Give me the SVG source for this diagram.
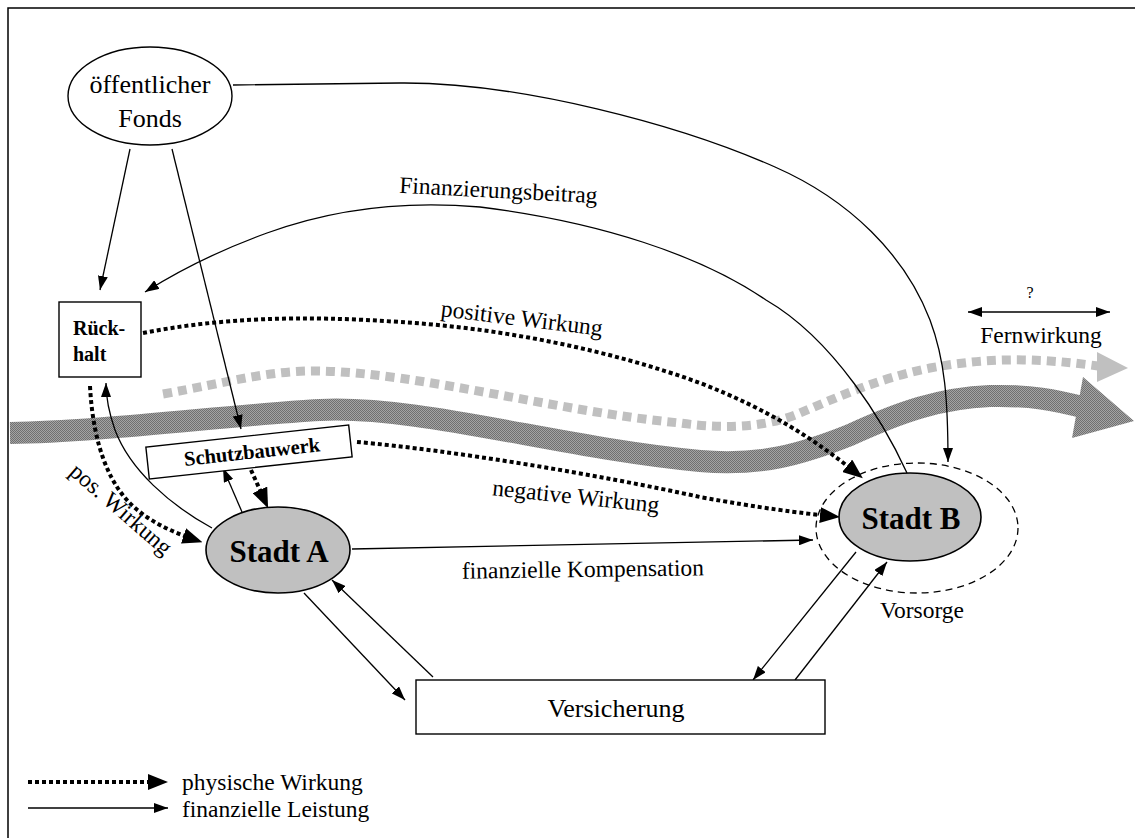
<svg xmlns="http://www.w3.org/2000/svg" width="1135" height="838" viewBox="0 0 1135 838">
  <style>
    text { font-family: "Liberation Serif", "Times New Roman", serif; fill: #000; }
    .node { font-size: 26px; }
    .lbl { font-size: 23.5px; }
    .bold { font-weight: bold; }
    .fin { fill: none; stroke: #000; stroke-width: 1.3; }
    .phys { fill: none; stroke: #000; stroke-width: 4; stroke-dasharray: 4 3; }
    .box { fill: #fff; stroke: #000; stroke-width: 1.4; }
    .city { fill: #c0c0c0; stroke: #000; stroke-width: 1.6; }
  </style>
  <defs>
    <!-- fine grey stipple used for the river band -->
    <pattern id="hatch" width="2" height="2" patternUnits="userSpaceOnUse">
      <rect width="2" height="2" fill="#a4a4a4"/>
      <rect width="1" height="1" fill="#707070"/>
      <rect x="1" y="1" width="1" height="1" fill="#707070"/>
    </pattern>
    <marker id="arr" viewBox="0 0 14 10" refX="14" refY="5" markerWidth="14" markerHeight="10" markerUnits="userSpaceOnUse" orient="auto-start-reverse">
      <path d="M0,0 L14,5 L0,10 z" fill="#000"/>
    </marker>
    <marker id="dotArr" viewBox="0 0 20 16" refX="10" refY="8" markerWidth="20" markerHeight="16" markerUnits="userSpaceOnUse" orient="auto">
      <path d="M0,0 L20,8 L0,16 z" fill="#000"/>
    </marker>
  </defs>

  <!-- frame -->
  <path d="M8,838 L8,8 L1135,8" fill="none" stroke="#000" stroke-width="1.5"/>

  <!-- river and flood wave -->
  <g id="river">
    <path d="M163,394 C230,382 270,370 320,371 C420,373 560,412 680,423 C730,430 770,426 800,413 C840,396 880,378 930,368 C990,357 1040,358 1098,366" fill="none" stroke="#c0c0c0" stroke-width="9" stroke-dasharray="9 6"/>
    <polygon points="1097,352 1128,368 1097,382" fill="#c0c0c0"/>
    <path d="M10,433 C100,432 230,415 320,410 C420,405 560,448 700,461 C760,466 800,455 850,435 C900,412 940,398 990,396 C1030,395 1055,400 1086,408" fill="none" stroke="url(#hatch)" stroke-width="22"/>
    <polygon points="1083,377 1134,421 1072,438" fill="url(#hatch)"/>
  </g>

  <!-- connectors -->
  <g id="connectors">
    <!-- financial flows -->
    <path class="fin" d="M130,149 L100,290" marker-end="url(#arr)"/>
    <path class="fin" d="M172,149 L241,429" marker-end="url(#arr)"/>
    <path class="fin" d="M233,85 L400,83 C520,82 680,125 775,167 C850,200 905,255 930,320 C945,360 948,400 948,462" marker-end="url(#arr)"/>
    <path class="fin" d="M907,473 C885,425 835,340 766,300 C700,255 600,222 480,207 C400,200 330,210 267,233 C220,250 180,270 145,292" marker-end="url(#arr)"/>
    <path class="fin" d="M212,528 C170,505 130,470 115,430 C108,410 106,395 106,383" marker-end="url(#arr)"/>
    <path class="fin" d="M242,512 L223,468" marker-end="url(#arr)"/>
    <path class="fin" d="M352,549 L813,540" marker-end="url(#arr)"/>
    <path class="fin" d="M304,593 L405,700" marker-end="url(#arr)"/>
    <path class="fin" d="M433,677 L332,580" marker-end="url(#arr)"/>
    <path class="fin" d="M856,552 L753,680" marker-end="url(#arr)"/>
    <path class="fin" d="M795,680 L887,562" marker-end="url(#arr)"/>
    <path class="fin" d="M968,312 L1110,312" marker-start="url(#arr)" marker-end="url(#arr)"/>

    <!-- physical effects -->
    <path class="phys" d="M143,333 C220,318 300,315 400,322 C500,328 610,350 700,383 C770,410 815,440 855,472" marker-end="url(#dotArr)"/>
    <path class="phys" d="M357,442 C450,450 600,475 700,497 C760,508 800,513 830,516" marker-end="url(#dotArr)"/>
    <path class="phys" d="M90,386 C93,445 110,490 140,512 C155,524 175,533 193,539" marker-end="url(#dotArr)"/>
    <path class="phys" d="M251,470 L264,499" marker-end="url(#dotArr)"/>
  </g>

  <!-- connector labels -->
  <g id="labels">
    <text class="lbl" transform="translate(498,198) rotate(3)" text-anchor="middle">Finanzierungsbeitrag</text>
    <text class="lbl" transform="translate(521,326) rotate(7)" text-anchor="middle">positive Wirkung</text>
    <text class="lbl" transform="translate(575,504) rotate(6)" text-anchor="middle">negative Wirkung</text>
    <text class="lbl" transform="translate(116,515) rotate(41)" text-anchor="middle">pos. Wirkung</text>
    <text class="lbl" transform="translate(583,577) rotate(-0.8)" text-anchor="middle">finanzielle Kompensation</text>
    <text style="font-size:16px" x="1030" y="298" text-anchor="middle">?</text>
    <text class="lbl" x="1041" y="343" text-anchor="middle">Fernwirkung</text>
  </g>

  <!-- nodes -->
  <g id="fonds">
    <ellipse cx="150" cy="96" rx="82" ry="49" class="box"/>
    <text class="node" x="150" y="93" text-anchor="middle">öffentlicher</text>
    <text class="node" x="150" y="127" text-anchor="middle">Fonds</text>
  </g>

  <g id="rueckhalt">
    <rect x="59" y="302" width="82" height="75" class="box"/>
    <text class="bold" style="font-size:20px" x="73" y="335">Rück-</text>
    <text class="bold" style="font-size:20px" x="73" y="361">halt</text>
  </g>

  <g id="schutzbauwerk" transform="translate(249,452) rotate(-6.2)">
    <rect x="-102" y="-16" width="204" height="32" class="box"/>
    <text class="bold" style="font-size:20.5px" x="3" y="7" text-anchor="middle">Schutzbauwerk</text>
  </g>

  <g id="stadt-a">
    <ellipse cx="278" cy="550" rx="72" ry="43" class="city"/>
    <text class="bold" style="font-size:31px" x="279" y="562" text-anchor="middle">Stadt A</text>
  </g>

  <g id="stadt-b">
    <ellipse cx="917" cy="528" rx="101" ry="65" fill="none" stroke="#000" stroke-width="1.3" stroke-dasharray="7 5"/>
    <ellipse cx="910" cy="517" rx="71" ry="44" class="city"/>
    <text class="bold" style="font-size:31px" x="911" y="529" text-anchor="middle">Stadt B</text>
    <text class="lbl" x="922" y="618" text-anchor="middle">Vorsorge</text>
  </g>

  <g id="versicherung">
    <rect x="416" y="680" width="409" height="54" class="box"/>
    <text class="node" x="616" y="717" text-anchor="middle">Versicherung</text>
  </g>

  <!-- legend -->
  <g id="legend">
    <path class="phys" d="M28,782 L158,782" marker-end="url(#dotArr)"/>
    <text class="lbl" x="182" y="790">physische Wirkung</text>
    <path class="fin" d="M28,808 L168,808" marker-end="url(#arr)"/>
    <text class="lbl" x="182" y="817">finanzielle Leistung</text>
  </g>
</svg>
